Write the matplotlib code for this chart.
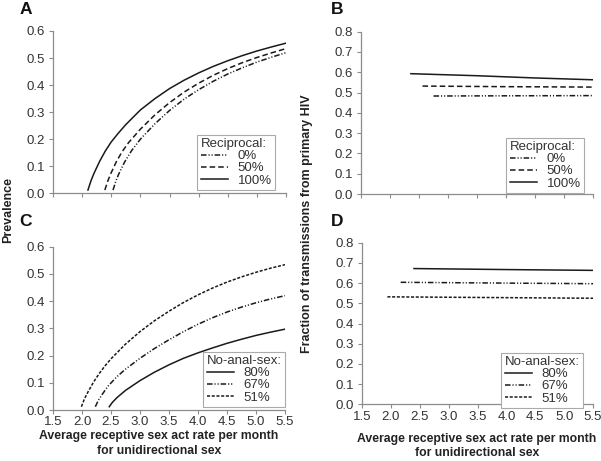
import matplotlib
matplotlib.use("Agg")
import matplotlib.pyplot as plt
from matplotlib.lines import Line2D

plt.rcParams['font.family'] = ['Liberation Sans', 'DejaVu Sans']
plt.rcParams['lines.scale_dashes'] = False

# ---- Panel A: prevalence vs act rate, reciprocal sex fraction ----
a_x_100 = [2.10, 2.15, 2.2, 2.3, 2.4, 2.5, 2.62, 2.75, 3.0, 3.25, 3.5, 3.75, 4.0, 4.25, 4.5, 4.75, 5.0, 5.25, 5.5]
a_y_100 = [0.012, 0.045, 0.072, 0.118, 0.157, 0.19, 0.222, 0.254, 0.308, 0.35, 0.387, 0.418, 0.445, 0.469, 0.49, 0.509, 0.526, 0.541, 0.555]
a_x_50 = [2.39, 2.44, 2.49, 2.59, 2.69, 2.8, 3.0, 3.25, 3.5, 3.75, 4.0, 4.25, 4.5, 4.75, 5.0, 5.25, 5.5]
a_y_50 = [0.012, 0.045, 0.072, 0.118, 0.155, 0.188, 0.237, 0.29, 0.335, 0.374, 0.407, 0.436, 0.461, 0.483, 0.502, 0.519, 0.535]
a_x_0 = [2.53, 2.58, 2.63, 2.73, 2.85, 3.0, 3.25, 3.5, 3.75, 4.0, 4.25, 4.5, 4.75, 5.0, 5.25, 5.5]
a_y_0 = [0.012, 0.045, 0.072, 0.116, 0.158, 0.2, 0.257, 0.306, 0.348, 0.383, 0.414, 0.441, 0.464, 0.485, 0.503, 0.52]

# ---- Panel B: fraction from primary HIV, reciprocal sex fraction ----
b_x_100 = [2.36, 3.5, 4.5, 5.5]
b_y_100 = [0.593, 0.583, 0.572, 0.563]
b_x_50 = [2.56, 4.0, 5.5]
b_y_50 = [0.532, 0.529, 0.527]
b_x_0 = [2.75, 4.0, 5.5]
b_y_0 = [0.483, 0.484, 0.485]

# ---- Panel C: prevalence vs act rate, no-anal-sex fraction ----
c_x_80 = [2.47, 2.52, 2.6, 2.75, 3.0, 3.25, 3.5, 3.75, 4.0, 4.25, 4.5, 4.75, 5.0, 5.25, 5.5]
c_y_80 = [0.012, 0.027, 0.045, 0.072, 0.108, 0.139, 0.166, 0.19, 0.21, 0.228, 0.245, 0.26, 0.274, 0.286, 0.297]
c_x_67 = [2.23, 2.28, 2.35, 2.45, 2.6, 2.75, 3.0, 3.25, 3.5, 3.75, 4.0, 4.25, 4.5, 4.75, 5.0, 5.25, 5.5]
c_y_67 = [0.012, 0.035, 0.058, 0.088, 0.122, 0.15, 0.19, 0.226, 0.258, 0.288, 0.315, 0.339, 0.36, 0.378, 0.394, 0.408, 0.42]
c_x_51 = [1.99, 2.04, 2.1, 2.2, 2.3, 2.4, 2.5, 2.75, 3.0, 3.25, 3.5, 3.75, 4.0, 4.25, 4.5, 4.75, 5.0, 5.25, 5.5]
c_y_51 = [0.012, 0.04, 0.065, 0.103, 0.135, 0.163, 0.188, 0.242, 0.288, 0.328, 0.363, 0.395, 0.423, 0.448, 0.47, 0.489, 0.506, 0.521, 0.534]

# ---- Panel D: fraction from primary HIV, no-anal-sex fraction ----
d_x_80 = [2.40, 4.0, 5.5]
d_y_80 = [0.672, 0.667, 0.663]
d_x_67 = [2.17, 4.0, 5.5]
d_y_67 = [0.604, 0.600, 0.597]
d_x_51 = [1.94, 4.0, 5.5]
d_y_51 = [0.532, 0.528, 0.525]

x_ticks = [1.5, 2.0, 2.5, 3.0, 3.5, 4.0, 4.5, 5.0, 5.5]
prev_ticks = [0.0, 0.1, 0.2, 0.3, 0.4, 0.5, 0.6]
frac_ticks = [0.0, 0.1, 0.2, 0.3, 0.4, 0.5, 0.6, 0.7, 0.8]
recip_labels = ["0%", "50%", "100%"]
noanal_labels = ["80%", "67%", "51%"]

LC = '#1a1a1a'
SPINE = '#8c8c8c'
TXT = '#333333'
SOLID = '-'
DASHED = (0, (4.0, 2.2))
DASHDOTDOT = (0, (4.0, 1.4, 0.8, 1.4, 0.8, 1.4))
SHORTDASH = (0, (2.2, 1.2))
LW = 1.1
FS = 9.5

fig = plt.figure(figsize=(6.01, 4.61), dpi=100)
W, H = 601.0, 461.0

def make_ax(l, r, t, b):
    return fig.add_axes([l / W, 1 - b / H, (r - l) / W, (b - t) / H])

axA = make_ax(53, 286, 31, 193.3)
axB = make_ax(361, 593, 31.7, 194)
axC = make_ax(53, 285, 246.7, 410)
axD = make_ax(362, 593, 242.7, 404.3)

def style(ax, yticks, ymax, show_xlabels):
    ax.set_xlim(1.5, 5.5)
    ax.set_ylim(0, ymax)
    ax.set_xticks(x_ticks)
    ax.set_yticks(yticks)
    ax.set_yticklabels([f"{v:.1f}" for v in yticks])
    if show_xlabels:
        ax.set_xticklabels([f"{v:.1f}" for v in x_ticks])
    else:
        ax.set_xticklabels([])
    for s in ['top', 'right']:
        ax.spines[s].set_visible(False)
    for s in ['left', 'bottom']:
        ax.spines[s].set_color(SPINE)
        ax.spines[s].set_linewidth(0.9)
    ax.tick_params(axis='both', direction='out', length=3, width=0.8,
                   color=SPINE, labelcolor=TXT, labelsize=FS, pad=2.5)
    ax.tick_params(axis='x', pad=1.5)
    ax.patch.set_alpha(0)

style(axA, prev_ticks, 0.6, False)
style(axB, frac_ticks, 0.8, False)
style(axC, prev_ticks, 0.6, True)
style(axD, frac_ticks, 0.8, True)

# Panel A
axA.plot(a_x_0, a_y_0, color=LC, lw=LW, linestyle=DASHDOTDOT)
axA.plot(a_x_50, a_y_50, color=LC, lw=LW, linestyle=DASHED)
axA.plot(a_x_100, a_y_100, color=LC, lw=LW, linestyle=SOLID)
# Panel B
axB.plot(b_x_0, b_y_0, color=LC, lw=LW, linestyle=DASHDOTDOT)
axB.plot(b_x_50, b_y_50, color=LC, lw=LW, linestyle=DASHED)
axB.plot(b_x_100, b_y_100, color=LC, lw=LW, linestyle=SOLID)
# Panel C
axC.plot(c_x_80, c_y_80, color=LC, lw=LW, linestyle=SOLID)
axC.plot(c_x_67, c_y_67, color=LC, lw=LW, linestyle=DASHDOTDOT)
axC.plot(c_x_51, c_y_51, color=LC, lw=LW, linestyle=SHORTDASH)
# Panel D
axD.plot(d_x_80, d_y_80, color=LC, lw=LW, linestyle=SOLID)
axD.plot(d_x_67, d_y_67, color=LC, lw=LW, linestyle=DASHDOTDOT)
axD.plot(d_x_51, d_y_51, color=LC, lw=LW, linestyle=SHORTDASH)

def add_legend(ax, styles, labels, title, right_px, bottom_px):
    handles = [Line2D([], [], color=LC, lw=LW, linestyle=s) for s in styles]
    leg = ax.legend(handles, labels, title=title, loc='lower right',
                    bbox_to_anchor=(right_px / W, 1 - bottom_px / H),
                    bbox_transform=fig.transFigure,
                    fontsize=FS, title_fontsize=FS,
                    frameon=True, fancybox=False, framealpha=1, edgecolor='#aaaaaa',
                    handlelength=2.1, handletextpad=0.7, borderpad=0.25,
                    labelspacing=0.0, alignment='left', borderaxespad=0.0)
    leg.get_frame().set_linewidth(0.8)
    for t in leg.get_texts():
        t.set_color(TXT)
    leg.get_title().set_color(TXT)
    return leg

add_legend(axA, [DASHDOTDOT, DASHED, SOLID], recip_labels, "Reciprocal:", 275, 190)
add_legend(axB, [DASHDOTDOT, DASHED, SOLID], recip_labels, "Reciprocal:", 584, 193)
add_legend(axC, [SOLID, DASHDOTDOT, SHORTDASH], noanal_labels, "No-anal-sex:", 285, 407)
add_legend(axD, [SOLID, DASHDOTDOT, SHORTDASH], noanal_labels, "No-anal-sex:", 583, 408)

# Panel letters
for letter, px, py in [("A", 26, 9), ("B", 337, 9), ("C", 25, 221), ("D", 337, 221)]:
    fig.text(px / W, 1 - py / H, letter, fontsize=12.5, fontweight='bold',
             ha='center', va='center', color='#111111')

# Shared y labels
fig.text(8 / W, 1 - 210 / H, "Prevalence", rotation=90, fontsize=9,
         fontweight='bold', ha='center', va='center', color='#222222')
fig.text(307 / W, 1 - 224 / H, "Fraction of transmissions from primary HIV",
         rotation=90, fontsize=9, fontweight='bold', ha='center', va='center',
         color='#222222')

# x labels
xl = "Average receptive sex act rate per month\nfor unidirectional sex"
fig.text(159 / W, 1 - 443.5 / H, xl, fontsize=8.8, fontweight='bold',
         ha='center', va='center', linespacing=1.3, color='#222222')
fig.text(477 / W, 1 - 446 / H, xl, fontsize=8.8, fontweight='bold',
         ha='center', va='center', linespacing=1.3, color='#222222')

fig.savefig("out.png", dpi=100, facecolor='white')
